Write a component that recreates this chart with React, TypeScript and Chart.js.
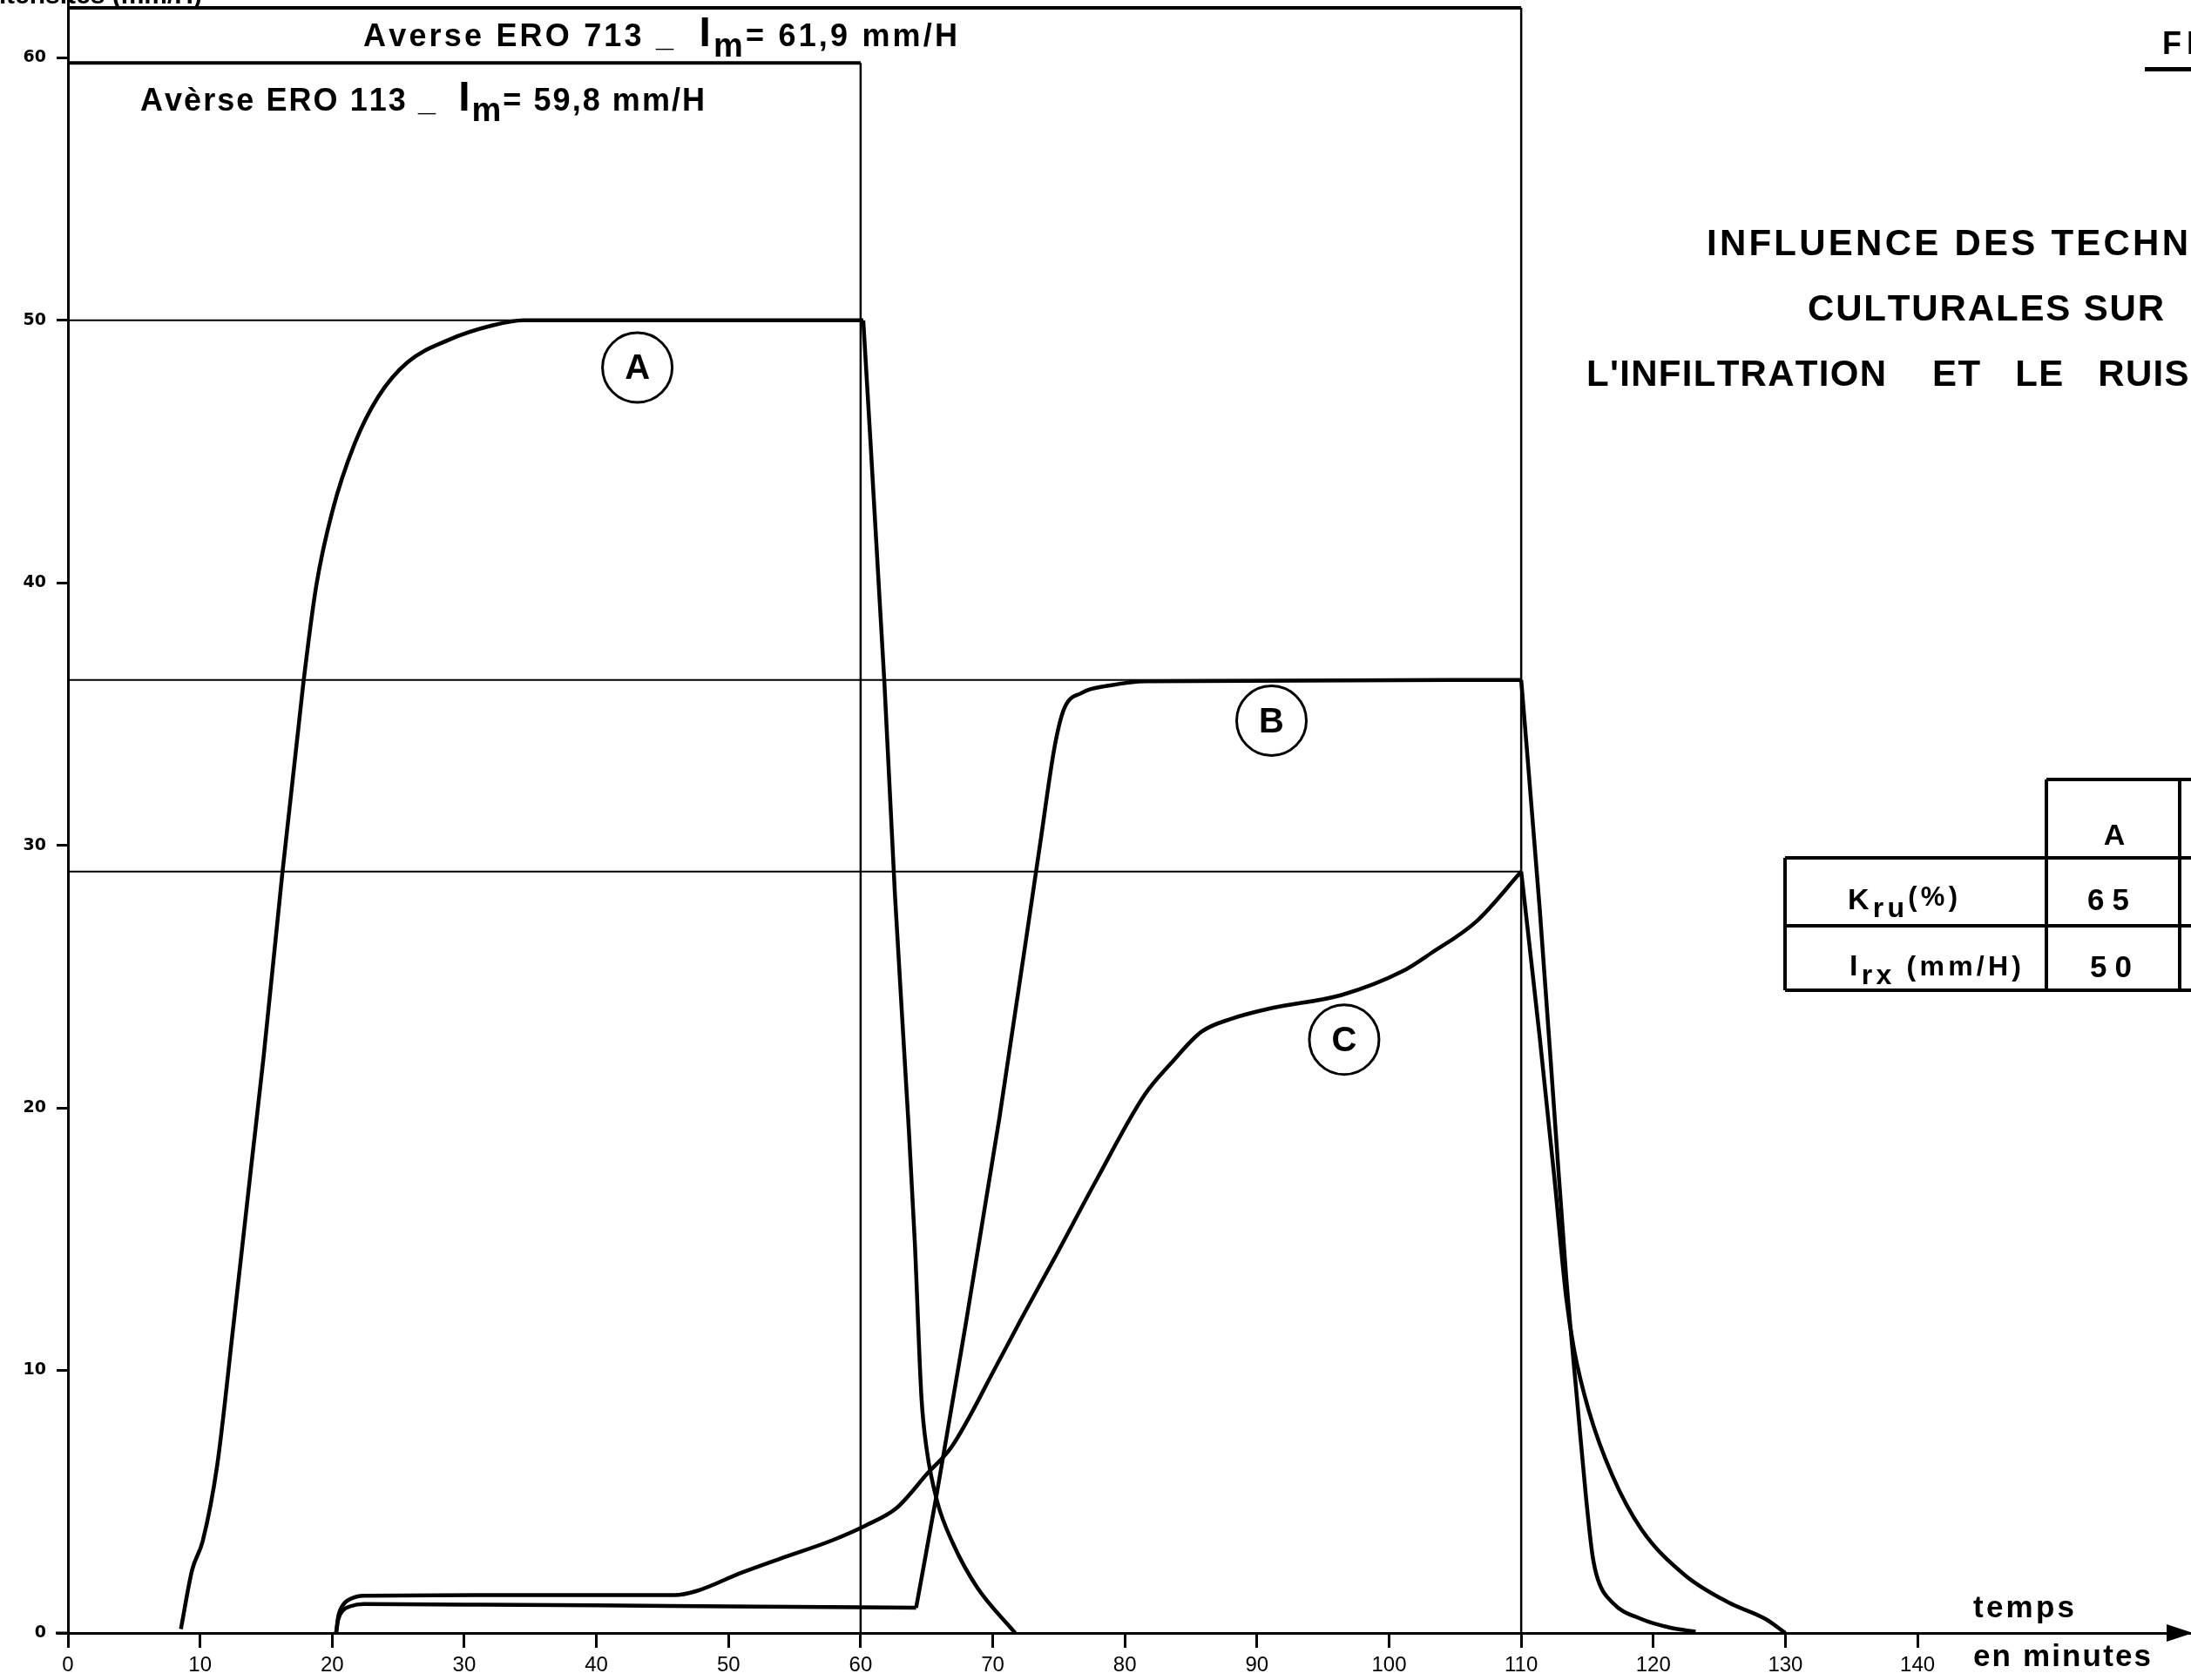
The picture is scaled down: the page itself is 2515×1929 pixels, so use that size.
import React, { useEffect, useRef } from "react";
import { Chart, registerables } from "chart.js";

Chart.register(...registerables);

const W = 2515;
const H = 1929;
const FONT = "'Liberation Sans', Arial, sans-serif";

// ---- axes ----
const xTickValues = [0, 10, 20, 30, 40, 50, 60, 70, 80, 90, 100, 110, 120, 130, 140];
const yTickValues = [0, 10, 20, 30, 40, 50, 60];
const X_MAX = 160.7;
const Y_MAX = 62.2;

// ---- rain events (Averse) ----
const rainNames = ["Averse ERO 713", "Avèrse ERO 113"];
const rainIntensity = [61.9, 59.8];
const rainIntensityText = ["61,9", "59,8"];
const rainDuration = [110, 60];

// ---- plateau reference lines ----
const refLevels = [50, 36.3, 29.0];
const refEnds = [60, 110, 110];

// ---- curve A ----
const aTime = [8.55, 9.4, 10.2, 11.3, 12.5, 13.9, 14.8, 16.2, 17.8, 18.8, 20.0, 21.7, 23.5, 25.7, 28.8, 32.1, 34.5, 60.2, 61.8, 62.6, 63.6, 64.1, 64.6, 65.0, 65.8, 67.0, 68.8, 71.7];
const aValue = [0.15, 2.4, 3.5, 6.4, 11.6, 17.9, 21.9, 28.8, 36.1, 39.9, 42.7, 45.3, 47.1, 48.4, 49.25, 49.8, 50.0, 50.0, 36.2, 28.1, 19.6, 14.9, 9.0, 7.0, 5.0, 3.4, 1.75, 0];
const aCorners = [60.2];

// ---- curve B ----
const bTime = [20.3, 20.45, 20.8, 21.4, 22.4, 30, 40, 50, 64.2, 65.8, 67.7, 70.5, 73.6, 74.7, 75.4, 76.7, 79.0, 81.6, 110, 111.4, 112.5, 113.4, 114.3, 114.9, 115.4, 115.8, 116.9, 119.1, 121.3, 123.2];
const bValue = [0, 0.5, 0.85, 1.02, 1.1, 1.08, 1.05, 1.01, 0.96, 5.4, 11.0, 19.6, 30.1, 33.8, 35.2, 35.8, 36.1, 36.25, 36.3, 27.6, 19.9, 13.6, 8.5, 5.2, 2.95, 2.05, 1.16, 0.53, 0.2, 0.05];
const bCorners = [64.2, 110];

// ---- curve C ----
const cTime = [20.3, 20.45, 20.8, 21.4, 22.4, 30.8, 45.9, 47.6, 51.0, 54.3, 57.7, 60.4, 62.7, 65.1, 66.9, 70.3, 72.2, 74.7, 77.9, 81.5, 83.5, 85.8, 88.1, 91.1, 96.4, 101.0, 103.2, 106.6, 110, 111.4, 112.5, 113.4, 114.0, 115.1, 116.9, 119.1, 122.4, 125.7, 128.5, 130.0];
const cValue = [0, 0.6, 1.05, 1.3, 1.42, 1.44, 1.44, 1.6, 2.3, 2.9, 3.5, 4.1, 4.75, 6.1, 7.1, 10.2, 12.0, 14.3, 17.3, 20.5, 21.7, 22.9, 23.4, 23.8, 24.3, 25.2, 25.9, 27.1, 29.0, 22.7, 17.4, 12.8, 10.8, 8.5, 6.0, 3.95, 2.2, 1.16, 0.53, 0];
const cCorners = [110];

// ---- curve labels ----
const curveNames = ["A", "B", "C"];
const labelTime = [43.1, 91.1, 96.6];
const labelValue = [48.2, 34.75, 22.6];

// ---- title / table ----
const titleLines = ["INFLUENCE DES TECHNIQUES", "CULTURALES SUR", "L'INFILTRATION    ET   LE   RUISSELLEMENT"];
const tableColumn = "A";
const tableKru = "65";
const tableIrx = "50";

type Run = { text: string; size: number; dy?: number; weight?: string };

function drawSpaced(
  ctx: CanvasRenderingContext2D,
  runs: Run[],
  x: number,
  y: number,
  targetW: number,
  fitLen?: number,
  align: "left" | "center" | "right" = "left"
) {
  const chars: { ch: string; font: string; dy: number; w: number }[] = [];
  for (const r of runs) {
    const font = `${r.weight ?? "bold"} ${r.size}px ${FONT}`;
    ctx.font = font;
    for (const ch of Array.from(r.text)) {
      chars.push({ ch, font, dy: r.dy ?? 0, w: ctx.measureText(ch).width });
    }
  }
  const n = fitLen ?? chars.length;
  const natural = chars.slice(0, n).reduce((s, c) => s + c.w, 0);
  const ls = n > 1 ? (targetW - natural) / (n - 1) : 0;
  const total = natural + ls * (n - 1);
  let cx = align === "center" ? x - total / 2 : align === "right" ? x - total : x;
  ctx.textAlign = "left";
  ctx.textBaseline = "alphabetic";
  for (const c of chars) {
    ctx.font = c.font;
    ctx.fillText(c.ch, cx, y + c.dy);
    cx += c.w + ls;
  }
}

function splitCurve(times: number[], values: number[], corners: number[]) {
  const segs: { x: number; y: number }[][] = [];
  let cur: { x: number; y: number }[] = [];
  times.forEach((t, i) => {
    cur.push({ x: t, y: values[i] });
    if (corners.includes(t)) {
      segs.push(cur);
      cur = [{ x: t, y: values[i] }];
    }
  });
  if (cur.length > 1) segs.push(cur);
  return segs;
}

const annotPlugin = {
  id: "annot",
  beforeDraw(chart: any) {
    const ctx = chart.ctx as CanvasRenderingContext2D;
    ctx.save();
    ctx.fillStyle = "#fff";
    ctx.fillRect(0, 0, W, H);
    ctx.restore();
  },
  afterDraw(chart: any) {
    const ctx = chart.ctx as CanvasRenderingContext2D;
    const xs = chart.scales.x;
    const ys = chart.scales.y;
    const x0 = xs.getPixelForValue(0);
    const y0 = ys.getPixelForValue(0);
    ctx.save();
    ctx.fillStyle = "#000";
    ctx.strokeStyle = "#000";

    // axis extension to the left and arrow head at the right
    ctx.lineWidth = 3;
    ctx.beginPath();
    ctx.moveTo(x0 - 14, y0);
    ctx.lineTo(x0, y0);
    ctx.stroke();
    ctx.beginPath();
    ctx.moveTo(W - 28, y0 - 10);
    ctx.lineTo(W + 2, y0);
    ctx.lineTo(W - 28, y0 + 10);
    ctx.closePath();
    ctx.fill();

    // y axis title (cut by top edge)
    ctx.font = `bold 30px ${FONT}`;
    ctx.textAlign = "right";
    ctx.textBaseline = "alphabetic";
    ctx.fillText("Intensités (mm/H)", 232, 4);

    // circled curve labels
    curveNames.forEach((name, i) => {
      const px = xs.getPixelForValue(labelTime[i]);
      const py = ys.getPixelForValue(labelValue[i]);
      ctx.beginPath();
      ctx.lineWidth = 3;
      ctx.arc(px, py, 40, 0, Math.PI * 2);
      ctx.stroke();
      ctx.font = `bold 40px ${FONT}`;
      ctx.textAlign = "center";
      ctx.textBaseline = "middle";
      ctx.fillText(name, px, py + 2);
    });

    // rain labels
    const rainPos = [
      { x: 417, y: 53, w: 682 },
      { x: 161, y: 127, w: 648 },
    ];
    rainNames.forEach((name, i) => {
      drawSpaced(
        ctx,
        [
          { text: `${name} _  `, size: 36 },
          { text: "I", size: 48 },
          { text: "m", size: 38, dy: 12 },
          { text: `= ${rainIntensityText[i]} mm/H`, size: 36 },
        ],
        rainPos[i].x,
        rainPos[i].y,
        rainPos[i].w
      );
    });

    // title block (cut at right edge)
    drawSpaced(ctx, [{ text: titleLines[0], size: 42 }], 1959, 293, 553, "INFLUENCE DES TECHN".length);
    drawSpaced(ctx, [{ text: titleLines[1], size: 42 }], 2075, 368, 409);
    drawSpaced(ctx, [{ text: titleLines[2], size: 42 }], 1821, 443, 344, "L'INFILTRATION".length);

    // figure number (cut)
    drawSpaced(ctx, [{ text: "FIG. 3", size: 36 }], 2482, 62, 130);
    ctx.fillRect(2462, 77, 60, 5);

    // table
    ctx.lineWidth = 4;
    const T = { hx: 2349, cx2: 2502, top: 895, r1: 985, r2: 1063, bot: 1137, lx: 2049 };
    ctx.beginPath();
    ctx.moveTo(T.hx, T.top); ctx.lineTo(W + 5, T.top);
    ctx.moveTo(T.hx, T.top); ctx.lineTo(T.hx, T.bot);
    ctx.moveTo(T.cx2, T.top); ctx.lineTo(T.cx2, T.bot);
    ctx.moveTo(T.lx, T.r1); ctx.lineTo(W + 5, T.r1);
    ctx.moveTo(T.lx, T.r1); ctx.lineTo(T.lx, T.bot);
    ctx.moveTo(T.lx, T.r2); ctx.lineTo(W + 5, T.r2);
    ctx.moveTo(T.lx, T.bot); ctx.lineTo(W + 5, T.bot);
    ctx.stroke();
    drawSpaced(ctx, [{ text: tableColumn, size: 34 }], 2427, 970, 24, undefined, "center");
    drawSpaced(
      ctx,
      [
        { text: "K", size: 34 },
        { text: "ru", size: 32, dy: 9 },
        { text: "(%)", size: 31, dy: -4 },
      ],
      2121, 1044, 126
    );
    drawSpaced(
      ctx,
      [
        { text: "I", size: 34 },
        { text: "rx", size: 32, dy: 10 },
        { text: " (mm/H)", size: 32 },
      ],
      2123, 1120, 197
    );
    drawSpaced(ctx, [{ text: tableKru, size: 35 }], 2420, 1045, 48, undefined, "center");
    drawSpaced(ctx, [{ text: tableIrx, size: 35 }], 2423, 1122, 48, undefined, "center");

    // x axis caption
    drawSpaced(ctx, [{ text: "temps", size: 35 }], 2265, 1857, 116);
    drawSpaced(ctx, [{ text: "en minutes", size: 35 }], 2265, 1913, 204);

    ctx.restore();
  },
};

export default function App() {
  const ref = useRef<HTMLCanvasElement | null>(null);

  useEffect(() => {
    const canvas = ref.current;
    if (!canvas) return;

    const datasets: any[] = [];
    const base = {
      borderColor: "#000",
      backgroundColor: "#000",
      pointRadius: 0,
      pointHoverRadius: 0,
      fill: false,
      clip: false,
    };
    // rain rectangles
    rainIntensity.forEach((iv, i) => {
      datasets.push({ ...base, label: rainNames[i], borderWidth: 4, data: [{ x: 0, y: iv }, { x: rainDuration[i], y: iv }] });
      datasets.push({ ...base, label: rainNames[i] + " fin", borderWidth: 2.5, data: [{ x: rainDuration[i], y: iv }, { x: rainDuration[i], y: 0 }] });
    });
    // reference plateau lines
    refLevels.forEach((lv, i) => {
      datasets.push({ ...base, label: "ref " + lv, borderWidth: 2, data: [{ x: 0, y: lv }, { x: refEnds[i], y: lv }] });
    });
    // curves
    const curves: [string, number[], number[], number[]][] = [
      ["A", aTime, aValue, aCorners],
      ["B", bTime, bValue, bCorners],
      ["C", cTime, cValue, cCorners],
    ];
    curves.forEach(([name, t, v, c]) => {
      splitCurve(t, v, c).forEach((seg, k) => {
        datasets.push({
          ...base,
          label: `${name}${k}`,
          borderWidth: 4.5,
          cubicInterpolationMode: "monotone",
          data: seg,
        });
      });
    });

    const chart = new Chart(canvas, {
      type: "line",
      data: { datasets },
      options: {
        animation: false,
        responsive: false,
        maintainAspectRatio: false,
        devicePixelRatio: 1,
        layout: { padding: 0 },
        events: [],
        plugins: {
          legend: { display: false },
          tooltip: { enabled: false },
          title: { display: false },
        },
        scales: {
          x: {
            type: "linear",
            min: 0,
            max: X_MAX,
            afterBuildTicks: (s: any) => {
              s.ticks = xTickValues.map((v) => ({ value: v }));
            },
            afterFit: (s: any) => {
              s.height = H - 1875;
              s.paddingLeft = 0;
              s.paddingRight = 0;
            },
            border: { display: true, color: "#000", width: 3 },
            grid: {
              display: true,
              drawOnChartArea: false,
              drawTicks: true,
              tickLength: 17,
              tickColor: "#000",
              tickWidth: 3,
              color: "#000",
            },
            ticks: {
              color: "#000",
              font: { family: "'Liberation Sans Narrow', 'Liberation Sans', sans-serif", size: 24 },
              padding: 6,
              maxRotation: 0,
              autoSkip: false,
            },
          },
          y: {
            type: "linear",
            min: 0,
            max: Y_MAX,
            afterBuildTicks: (s: any) => {
              s.ticks = yTickValues.map((v) => ({ value: v }));
            },
            afterFit: (s: any) => {
              s.width = 78;
              s.paddingTop = 0;
              s.paddingBottom = 0;
            },
            border: { display: true, color: "#000", width: 3 },
            grid: {
              display: true,
              drawOnChartArea: false,
              drawTicks: true,
              tickLength: 13,
              tickColor: "#000",
              tickWidth: 3,
              color: "#000",
            },
            ticks: {
              color: "#000",
              font: { family: "'DejaVu Sans', sans-serif", size: 19, weight: "bold" },
              padding: 12,
              autoSkip: false,
            },
          },
        },
      } as any,
      plugins: [annotPlugin as any],
    });

    return () => chart.destroy();
  }, []);

  return (
    <div style={{ position: "fixed", left: 0, top: 0, width: W, height: H, background: "#fff" }}>
      <canvas ref={ref} width={W} height={H} style={{ width: W, height: H, display: "block" }} />
    </div>
  );
}
